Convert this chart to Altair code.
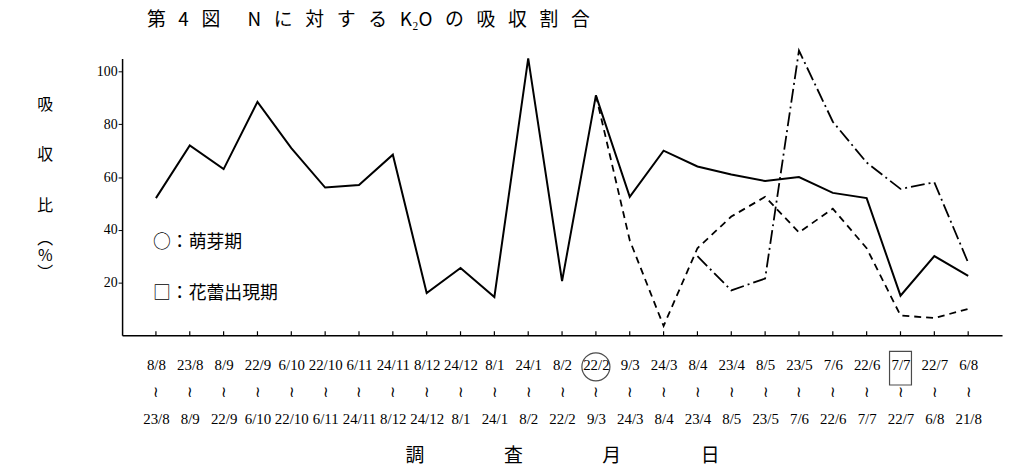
import altair as alt
import pandas as pd

# --- data ---
period_from = ["8/8", "23/8", "8/9", "22/9", "6/10", "22/10", "6/11", "24/11", "8/12", "24/12",
               "8/1", "24/1", "8/2", "22/2", "9/3", "24/3", "8/4", "23/4", "8/5", "23/5",
               "7/6", "22/6", "7/7", "22/7", "6/8"]
period_to = ["23/8", "8/9", "22/9", "6/10", "22/10", "6/11", "24/11", "8/12", "24/12", "8/1",
             "24/1", "8/2", "22/2", "9/3", "24/3", "8/4", "23/4", "8/5", "23/5", "7/6",
             "22/6", "7/7", "22/7", "6/8", "21/8"]

solid_values = [52, 72, 63, 88.5, 71, 56, 57, 68.5, 16, 25.5, 14.5, 105, 20.5,
                91, 52.5, 70, 64, 61, 58.5, 60, 54, 52, 15, 30, 22.5]
dashed_start = 13
dashed_values = [91, 36, 3.5, 33, 45, 52.5, 39, 48, 33, 7.5, 6.5, 10]
dashdot_start = 16
dashdot_values = [30, 17, 21.5, 108, 81, 65.5, 55.5, 58, 27.5]

y_ticks = [20, 40, 60, 80, 100]
circle_index = 13   # 萌芽期
square_index = 22   # 花蕾出現期
legend_lines = ["○：萌芽期", "□：花蕾出現期"]

S = "\u00a0\u00a0\u00a0"
title_text = S.join(["第", "4", "図"]) + "\u3000\u00a0\u00a0" + S.join(["N", "に", "対", "す", "る", "K₂O", "の", "吸", "収", "割", "合"])
x_title = "調　　　　 査　　　　 月　　　　 日"
B = "\u2800"   # blank (non-trimmed) line filler
y_title = ["吸", B, B, "収", B, B, "比", B, "︵", "%", "︶"]

# --- build tables ---
cats = [f"{a}|≀|{b}" for a, b in zip(period_from, period_to)]
solid_df = pd.DataFrame({"cat": cats, "v": solid_values})
dashed_df = pd.DataFrame({"cat": cats[dashed_start:dashed_start + len(dashed_values)], "v": dashed_values})
dashdot_df = pd.DataFrame({"cat": cats[dashdot_start:dashdot_start + len(dashdot_values)], "v": dashdot_values})
tick_df = pd.DataFrame({"cat": cats})

JP = "Noto Sans CJK JP"
NUM = "Liberation Serif"

x_enc = alt.X("cat:N", sort=cats,
              scale=alt.Scale(type="point", padding=1),
              axis=alt.Axis(title=x_title, labelAngle=0, ticks=False,
                            labelExpr="split(datum.label, '|')",
                            labelFont=NUM, labelFontSize=15, labelLineHeight=27,
                            labelPadding=23, labelColor="black",
                            domainColor="black", domainWidth=1.5,
                            titleFont=JP, titleFontSize=19, titleFontWeight="normal",
                            titleColor="black", titleY=121, titleBaseline="middle"))
y_scale = alt.Scale(domain=[0, 105], nice=False)
y_enc = alt.Y("v:Q", scale=y_scale,
              axis=alt.Axis(values=y_ticks, grid=False, tickSize=4, tickColor="black",
                            labelFont=NUM, labelFontSize=14, labelPadding=1, labelColor="black",
                            domainColor="black", domainWidth=1.5,
                            title=y_title, titleAngle=0, titleAlign="center",
                            titleBaseline="top", titleX=-78, titleY=38,
                            titleFont=JP, titleFontSize=16, titleFontWeight="normal",
                            titleLineHeight=17, titleColor="black"))

solid = alt.Chart(solid_df).mark_line(color="black", strokeWidth=2).encode(x=x_enc, y=y_enc)
dashed = alt.Chart(dashed_df).mark_line(color="black", strokeWidth=1.8, strokeDash=[7, 5]).encode(
    x=alt.X("cat:N", sort=cats), y=alt.Y("v:Q", scale=y_scale))
dashdot = alt.Chart(dashdot_df).mark_line(color="black", strokeWidth=1.8, strokeDash=[14, 4, 2, 4]).encode(
    x=alt.X("cat:N", sort=cats), y=alt.Y("v:Q", scale=y_scale))

ticks = alt.Chart(tick_df).mark_rule(color="black", strokeWidth=1.2).encode(
    x=alt.X("cat:N", sort=cats), y=alt.datum(0), y2=alt.datum(1.5))

circ = alt.Chart(pd.DataFrame({"cat": [cats[circle_index]]})).mark_point(
    shape="circle", filled=False, size=800, color="black", strokeWidth=1.2).encode(
    x=alt.X("cat:N", sort=cats), y=alt.datum(-12))
sq = alt.Chart(pd.DataFrame({"cat": [cats[square_index]]})).mark_point(
    shape="M-0.65,-1L0.65,-1L0.65,1L-0.65,1Z", filled=False, size=1156, color="black",
    strokeWidth=1.2).encode(
    x=alt.X("cat:N", sort=cats), y=alt.datum(-12.5))

leg1 = alt.Chart(pd.DataFrame({"cat": [cats[0]], "t": [legend_lines[0]]})).mark_text(
    align="left", baseline="middle", font=JP, fontSize=18, dx=-3, color="black").encode(
    x=alt.X("cat:N", sort=cats), y=alt.datum(35), text="t:N")
leg2 = alt.Chart(pd.DataFrame({"cat": [cats[0]], "t": [legend_lines[1]]})).mark_text(
    align="left", baseline="middle", font=JP, fontSize=18, dx=-3, color="black").encode(
    x=alt.X("cat:N", sort=cats), y=alt.datum(15.5), text="t:N")

chart = alt.layer(solid, dashed, dashdot, ticks, circ, sq, leg1, leg2).properties(
    width=887, height=279,
    title=alt.TitleParams(title_text, anchor="start", frame="group", dx=25, offset=17,
                          font=JP, fontSize=19, fontWeight="normal", color="black"),
    autosize=alt.AutoSizeParams(type="none"),
    padding={"left": 115, "top": 49, "right": 4, "bottom": 130},
).configure(background="white").configure_view(stroke=None)

chart.save("out.html", embed_options={"renderer": "svg", "actions": False})
